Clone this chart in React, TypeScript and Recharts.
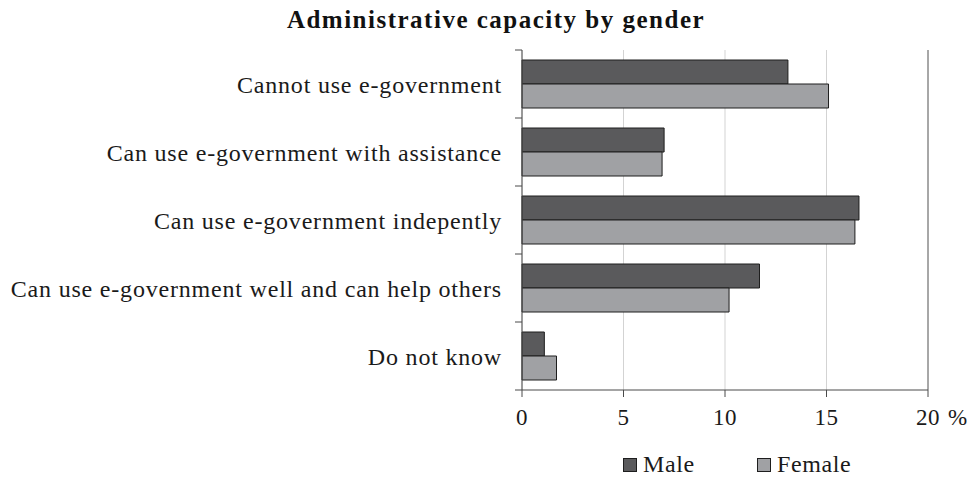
import React from 'react';
import {
  BarChart,
  Bar,
  XAxis,
  YAxis,
  CartesianGrid,
  ReferenceLine,
} from 'recharts';

const categories = [
  'Cannot use e-government',
  'Can use e-government with assistance',
  'Can use e-government indepently',
  'Can use e-government well and can help others',
  'Do not know',
];
const maleValues = [13.1, 7.0, 16.6, 11.7, 1.1];
const femaleValues = [15.1, 6.9, 16.4, 10.2, 1.7];
const xTicks = [0, 5, 10, 15, 20];

const series = [
  { key: 'male', name: 'Male', color: '#5a5a5c' },
  { key: 'female', name: 'Female', color: '#a0a1a4' },
];

const title = 'Administrative capacity by gender';

const data = categories.map((name, i) => ({
  name,
  male: maleValues[i],
  female: femaleValues[i],
}));

const FONT = '"Liberation Serif", "DejaVu Serif", serif';
const AXIS = '#4a4a4a';
const TEXT = '#1a1a1a';

// category labels plus the short marks on the band edges
function CategoryTick(props: any) {
  const { x, y, payload, index } = props;
  const half = payload.offset ?? 0;
  const lineX1 = x + 13;
  const lineX2 = x + 20;
  return (
    <g>
      <line x1={lineX1} x2={lineX2} y1={y - half} y2={y - half} stroke={AXIS} />
      {index === categories.length - 1 && (
        <line x1={lineX1} x2={lineX2} y1={y + half} y2={y + half} stroke={AXIS} />
      )}
      <text
        x={x}
        y={y}
        dy={9}
        textAnchor="end"
        fontFamily={FONT}
        fontSize={24}
        letterSpacing={0.8}
        fill={TEXT}
      >
        {payload.value}
      </text>
    </g>
  );
}

function ValueTick(props: any) {
  const { x, y, payload } = props;
  const last = payload.value === xTicks[xTicks.length - 1];
  return (
    <g fontFamily={FONT} fontSize={23} fill={TEXT}>
      <text x={x} y={y} dy={28} textAnchor="middle" letterSpacing={0.5}>
        {payload.value}
      </text>
      {last && (
        <text x={x + 20} y={y} dy={28} textAnchor="start">
          %
        </text>
      )}
    </g>
  );
}

export default function App() {
  return (
    <div style={{ position: 'relative', width: 971, height: 477, background: '#fff' }}>
      <style>{'body{margin:0;}'}</style>
      <BarChart
        width={971}
        height={477}
        data={data}
        layout="vertical"
        margin={{ top: 50, right: 43, bottom: 47, left: 0 }}
        barCategoryGap={10}
        barGap={0}
      >
        <CartesianGrid horizontal={false} stroke="#d3d3d3" />
        <XAxis
          type="number"
          domain={[0, 20]}
          ticks={xTicks}
          height={40}
          tickSize={7}
          tickMargin={0}
          axisLine={{ stroke: AXIS }}
          tickLine={{ stroke: AXIS }}
          tick={<ValueTick />}
        />
        <XAxis
          xAxisId="top"
          orientation="top"
          type="number"
          domain={[0, 20]}
          height={0}
          tick={false}
          tickLine={false}
          axisLine={{ stroke: AXIS }}
        />
        <YAxis
          type="category"
          dataKey="name"
          width={522}
          tickSize={7}
          tickMargin={13}
          tickLine={false}
          axisLine={{ stroke: AXIS }}
          interval={0}
          tick={<CategoryTick />}
        />
        <ReferenceLine x={20} stroke="#666" />
        {series.map((s) => (
          <Bar
            key={s.key}
            dataKey={s.key}
            name={s.name}
            fill={s.color}
            stroke="#1e1e1e"
            strokeWidth={1}
            isAnimationActive={false}
          />
        ))}
      </BarChart>
      <svg
        width={971}
        height={477}
        style={{ position: 'absolute', left: 0, top: 0, pointerEvents: 'none' }}
      >
        <text
          x={496}
          y={28}
          textAnchor="middle"
          fontFamily={FONT}
          fontSize={25}
          fontWeight="bold"
          letterSpacing={1.5}
          fill="#111"
        >
          {title}
        </text>
        {series.map((s, i) => {
          const left = 623 + i * 134;
          return (
            <g key={s.key}>
              <rect x={left + 0.5} y={458.5} width={13} height={13} fill={s.color} stroke="#1e1e1e" />
              <text
                x={left + 20}
                y={472}
                fontFamily={FONT}
                fontSize={24}
                letterSpacing={0.6}
                fill={TEXT}
              >
                {s.name}
              </text>
            </g>
          );
        })}
      </svg>
    </div>
  );
}
